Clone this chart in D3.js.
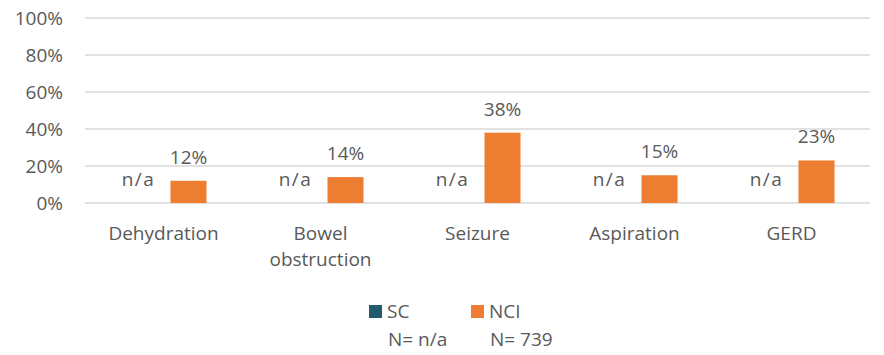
<!DOCTYPE html>
<html>
<head>
<meta charset="utf-8">
<script src="https://cdn.jsdelivr.net/npm/d3@7"></script>
<style>
html,body{margin:0;padding:0;background:#fff;}
svg{display:block;}
text{font-family:"Open Sans",sans-serif;fill:#595959;}
</style>
</head>
<body>
<svg id="chart" width="884" height="355"></svg>
<script>
const categories = [["Dehydration"], ["Bowel", "obstruction"], ["Seizure"], ["Aspiration"], ["GERD"]];
const seriesNames = ["SC", "NCI"];
const seriesColors = ["#215B6C", "#ED7D31"];
const seriesN = ["N= n/a", "N= 739"];
const scValues = [null, null, null, null, null];
const nciValues = [0.12, 0.14, 0.38, 0.15, 0.23];
const yTicks = [0, 0.2, 0.4, 0.6, 0.8, 1.0];

(function() {
const svg = d3.select("#chart");
const fontSize = 19;
const pLeft = 85, pRight = 870, pTop = 18, pBottom = 203;

const x0 = d3.scaleBand().domain(d3.range(categories.length)).range([pLeft, pRight]).padding(0);
const bw = x0.bandwidth();
const x1 = d3.scaleBand().domain(seriesNames).range([bw * 0.226, bw * 0.774]).paddingInner(0.28).paddingOuter(0);
const y = d3.scaleLinear().domain([0, 1]).range([pBottom, pTop]);

// gridlines
svg.append("g").selectAll("line").data(yTicks).join("line")
  .attr("x1", pLeft).attr("x2", pRight)
  .attr("y1", d => y(d)).attr("y2", d => y(d))
  .attr("stroke", "#D9D9D9").attr("stroke-width", 1.3);

// y labels
svg.append("g").selectAll("text").data(yTicks).join("text")
  .attr("x", 63).attr("y", d => y(d)).attr("dy", "0.36em")
  .attr("text-anchor", "end").attr("font-size", fontSize)
  .text(d => d3.format(".0%")(d));

const seriesData = [scValues, nciValues];
seriesData.forEach((vals, si) => {
  const name = seriesNames[si];
  const g = svg.append("g");
  const items = vals.map((v, i) => ({v, i}));
  g.selectAll("rect").data(items.filter(d => d.v != null)).join("rect")
    .attr("x", d => x0(d.i) + x1(name))
    .attr("width", x1.bandwidth())
    .attr("y", d => y(d.v))
    .attr("height", d => y(0) - y(d.v))
    .attr("fill", seriesColors[si]);
  g.selectAll("text").data(items).join("text")
    .attr("x", d => x0(d.i) + x1(name) + x1.bandwidth() / 2)
    .attr("y", d => y(d.v == null ? 0 : d.v) - 17)
    .attr("text-anchor", "middle").attr("font-size", fontSize)
    .attr("letter-spacing", d => d.v == null ? "1.5px" : null)
    .text(d => d.v == null ? "n/a" : d3.format(".0%")(d.v));
});

// category labels
const cl = svg.append("g").selectAll("text").data(categories).join("text")
  .attr("x", (d, i) => x0(i) + bw / 2)
  .attr("y", 240)
  .attr("text-anchor", "middle").attr("font-size", fontSize);
cl.selectAll("tspan").data(d => d).join("tspan")
  .attr("x", function() { return this.parentNode.getAttribute("x"); })
  .attr("dy", (d, j) => j === 0 ? 0 : 26)
  .text(d => d);

// legend
const legX = [369, 471];
const lg = svg.append("g");
seriesNames.forEach((s, i) => {
  lg.append("rect").attr("x", legX[i]).attr("y", 305).attr("width", 13).attr("height", 13).attr("fill", seriesColors[i]);
  lg.append("text").attr("x", legX[i] + 18).attr("y", 318).attr("font-size", fontSize).text(s);
  lg.append("text").attr("x", legX[i] + 19).attr("y", 346).attr("font-size", fontSize).text(seriesN[i]);
});
})();
</script>
</body>
</html>
